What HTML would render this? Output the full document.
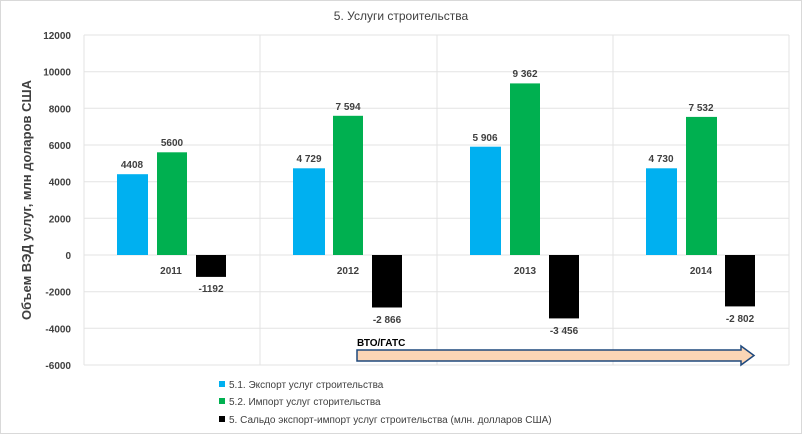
<!DOCTYPE html>
<html><head><meta charset="utf-8"><style>
html,body{margin:0;padding:0;background:#fff}
svg{display:block;font-family:"Liberation Sans","DejaVu Sans",sans-serif}
</style></head><body>
<svg width="802" height="434" viewBox="0 0 802 434" xmlns="http://www.w3.org/2000/svg">
<rect x="0.5" y="0.5" width="801" height="433" fill="#fff" stroke="#d9d9d9"/>
<text x="401" y="20" font-size="12" fill="#404040" text-anchor="middle">5. Услуги строительства</text>
<g stroke="#e3e3e3" stroke-width="1">
<line x1="84" y1="35" x2="789" y2="35"/>
<line x1="84" y1="71.7" x2="789" y2="71.7"/>
<line x1="84" y1="108.3" x2="789" y2="108.3"/>
<line x1="84" y1="145" x2="789" y2="145"/>
<line x1="84" y1="181.7" x2="789" y2="181.7"/>
<line x1="84" y1="218.3" x2="789" y2="218.3"/>
<line x1="84" y1="255" x2="789" y2="255"/>
<line x1="84" y1="291.7" x2="789" y2="291.7"/>
<line x1="84" y1="328.3" x2="789" y2="328.3"/>
<line x1="84" y1="365" x2="789" y2="365"/>
<line x1="84" y1="35" x2="84" y2="365"/>
<line x1="260" y1="35" x2="260" y2="365"/>
<line x1="437" y1="35" x2="437" y2="365"/>
<line x1="613" y1="35" x2="613" y2="365"/>
<line x1="789" y1="35" x2="789" y2="365"/>
</g>
<g font-size="10" font-weight="bold" fill="#404040" text-anchor="end">
<text x="71" y="39">12000</text><text x="71" y="75.7">10000</text><text x="71" y="112.3">8000</text>
<text x="71" y="149">6000</text><text x="71" y="185.7">4000</text><text x="71" y="222.3">2000</text>
<text x="71" y="259">0</text><text x="71" y="295.7">-2000</text><text x="71" y="332.3">-4000</text><text x="71" y="369">-6000</text>
</g>
<text transform="translate(31,200) rotate(-90)" font-size="13" font-weight="bold" fill="#404040" text-anchor="middle">Объем ВЭД услуг, млн доларов  США</text>
<g>
<rect x="117" y="174.2" width="31" height="80.8" fill="#00b0f0"/>
<rect x="157" y="152.3" width="30" height="102.7" fill="#00b050"/>
<rect x="196" y="255" width="30" height="21.9" fill="#000"/>
<rect x="293" y="168.3" width="32" height="86.7" fill="#00b0f0"/>
<rect x="333" y="115.8" width="30" height="139.2" fill="#00b050"/>
<rect x="372" y="255" width="30" height="52.5" fill="#000"/>
<rect x="470" y="146.7" width="31" height="108.3" fill="#00b0f0"/>
<rect x="510" y="83.4" width="30" height="171.6" fill="#00b050"/>
<rect x="549" y="255" width="30" height="63.4" fill="#000"/>
<rect x="646" y="168.3" width="31" height="86.7" fill="#00b0f0"/>
<rect x="686" y="116.9" width="31" height="138.1" fill="#00b050"/>
<rect x="725" y="255" width="30" height="51.4" fill="#000"/>
</g>
<g font-size="10" font-weight="bold" fill="#404040" text-anchor="middle">
<text x="132" y="168">4408</text><text x="172" y="146">5600</text><text x="211" y="292">-1192</text>
<text x="309" y="162">4 729</text><text x="348" y="110">7 594</text><text x="387" y="323">-2 866</text>
<text x="485" y="141">5 906</text><text x="525" y="77">9 362</text><text x="564" y="334">-3 456</text>
<text x="661" y="162">4 730</text><text x="701" y="111">7 532</text><text x="740" y="322">-2 802</text>
<text x="171" y="274">2011</text><text x="348" y="274">2012</text><text x="525" y="274">2013</text><text x="701" y="274">2014</text>
</g>
<text x="357" y="346" font-size="10" font-weight="bold" fill="#000">ВТО/ГАТС</text>
<path d="M357,350 L741,350 L741,346 L754,355.5 L741,365 L741,361 L357,361 Z" fill="#fbd5b5" stroke="#1f497d" stroke-width="1.5"/>
<g font-size="10" fill="#404040">
<rect x="219" y="381" width="6" height="6" fill="#00b0f0"/><text x="229" y="388">5.1. Экспорт услуг строительства</text>
<rect x="219" y="398" width="6" height="6" fill="#00b050"/><text x="229" y="405">5.2. Импорт услуг сторительства</text>
<rect x="219" y="416" width="6" height="6" fill="#000"/><text x="229" y="423">5. Сальдо экспорт-импорт услуг строительства (млн. долларов США)</text>
</g>
</svg>
</body></html>
